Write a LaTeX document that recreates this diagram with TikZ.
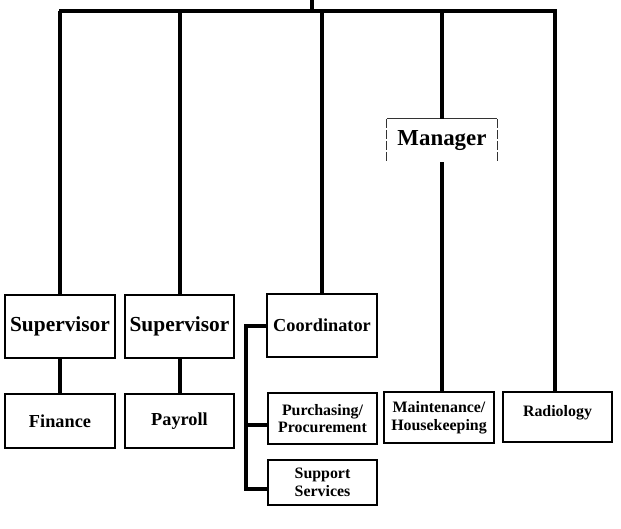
\documentclass[tikz,border=0pt]{standalone}
\usepackage{fontspec}
\setmainfont{Liberation Serif}
\usetikzlibrary{calc}

\tikzset{
  box/.style={draw, line width=1.6pt, inner sep=0pt, align=center},
  big/.style={font=\bfseries\fontsize{21.4}{23}\selectfont},
  mid/.style={font=\bfseries\fontsize{18.3}{20}\selectfont},
  small/.style={font=\bfseries\fontsize{15.9}{17.5}\selectfont},
  link/.style={line width=4pt},
  frame/.style={line width=0.9pt, draw=black!80}
}

\begin{document}
\begin{tikzpicture}[x=1pt, y=-1pt]
  \useasboundingbox (0,0) rectangle (621,529);

  % top bar
  \coordinate (top) at (312,0);
  \coordinate (barL) at (61,11.5);
  \coordinate (barR) at (555,11.5);
  \draw[link] (top) -- (top |- barL);
  \draw[link, line cap=rect] (barL) -- (barR);

  % second row
  \node[box, big, minimum width=110pt, minimum height=63pt] (sup1) at (60,326.5) {Supervisor};
  \node[box, big, minimum width=109pt, minimum height=63pt] (sup2) at (179.5,326.5) {Supervisor};
  \node[box, mid, minimum width=110pt, minimum height=63pt] (coord) at (322,325.5) {Coordinator};

  % manager, drawn with a broken frame
  \node[inner sep=0pt, font=\bfseries\fontsize{22.9}{25}\selectfont,
        minimum width=110pt, minimum height=43pt] (man) at (442,140.5) {Manager};
  \draw[frame] (man.north west) -- (man.north east);
  \draw[frame, dash pattern=on 9pt off 2pt] (man.north west) -- (man.south west);
  \draw[frame, dash pattern=on 9pt off 2pt] (man.north east) -- (man.south east);

  % third row
  \node[box, mid, minimum width=110pt, minimum height=54pt] (fin) at (60,421) {Finance};
  \node[box, mid, minimum width=109pt, minimum height=54pt] (pay) at (179.5,421) {Payroll};
  \node[box, small, minimum width=109pt, minimum height=51pt] (purch) at (322.5,418.5) {Purchasing/\\Procurement};
  \node[box, small, minimum width=109pt, minimum height=45pt] (supp) at (322.5,482.5) {Support\\Services};
  \node[box, small, minimum width=110pt, minimum height=51pt] (main) at (439,417.5) {Maintenance/\\Housekeeping};
  \node[box, small, minimum width=109pt, minimum height=50pt, text depth=12pt] (rad) at (557.5,417) {Radiology};

  % links from the bar
  \draw[link] (sup1.north) -- (sup1.north |- barL);
  \draw[link] (sup2.north) -- (sup2.north |- barL);
  \draw[link] (coord.north) -- (coord.north |- barL);
  \draw[link] (man.north) -- (man.north |- barL);
  \draw[link] (rad.north -| barR) -- (barR);

  % links down
  \draw[link] (sup1.south) -- (fin.north);
  \draw[link] (sup2.south) -- (pay.north);
  \draw[link] (man.south) -- (man.south |- main.north);

  % coordinator bracket
  \draw[link] (coord.west) -- ++(-20,0) |- ([yshift=-6pt]supp.west);
  \draw[link] ([yshift=-6pt]purch.west) -- ++(-21,0);
\end{tikzpicture}
\end{document}
